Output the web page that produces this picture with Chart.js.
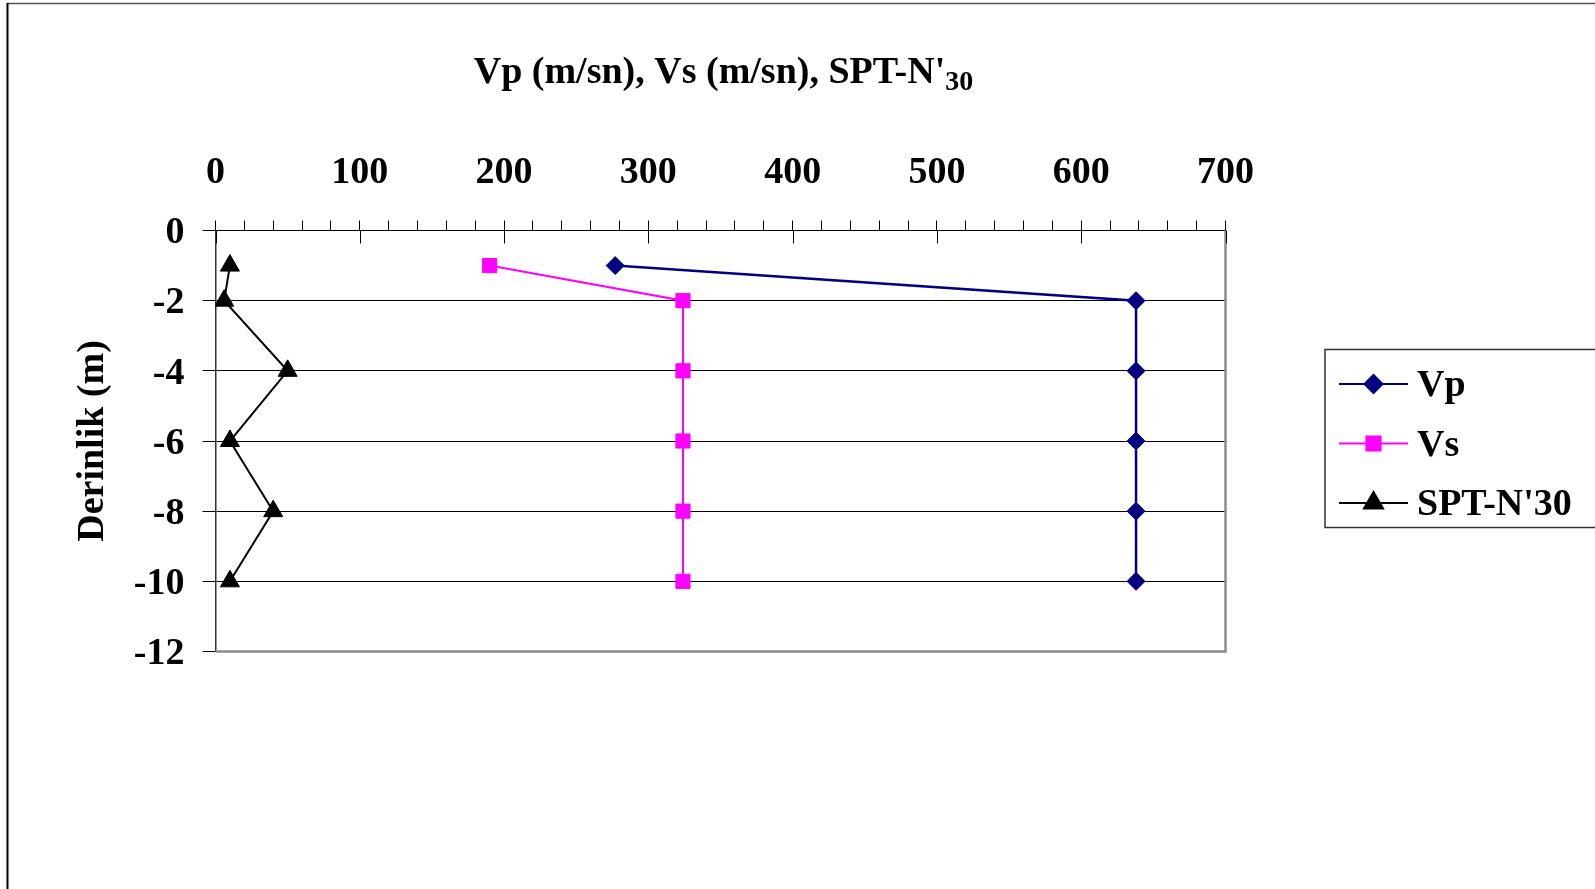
<!DOCTYPE html>
<html>
<head>
<meta charset="utf-8">
<script src="https://cdn.jsdelivr.net/npm/chart.js@4.4.0/dist/chart.umd.min.js"></script>
<style>
  html, body { margin: 0; padding: 0; background: #fff; }
  #wrap { position: relative; width: 1595px; height: 889px; }
</style>
</head>
<body>
<div id="wrap"><canvas id="grafik"></canvas></div>
<script>
var derinlik = [-1, -2, -4, -6, -8, -10];
var vp = [277, 638, 638, 638, 638, 638];
var vs = [190, 324, 324, 324, 324, 324];
var spt = [10, 6, 50, 10, 40, 10];
var xEtiketler = [0, 100, 200, 300, 400, 500, 600, 700];
var yEtiketler = [0, -2, -4, -6, -8, -10, -12];
var seriAdlari = ['Vp', 'Vs', "SPT-N'30"];
var baslik = "Vp (m/sn), Vs (m/sn), SPT-N'";
var baslikAlt = '30';
var yBaslik = 'Derinlik (m)';

var yazi = "'Liberation Serif', 'Times New Roman', serif";

function noktalar(degerler) {
    return degerler.map(function (v, i) { return { x: v, y: derinlik[i] }; });
}

// cerceve, baslik, cizim alani kenarlari ve lejant
var ekler = {
    id: 'ekler',
    beforeDraw: function (chart) {
        var ctx = chart.ctx;
        ctx.save();
        ctx.strokeStyle = '#555';
        ctx.lineWidth = 1.5;
        ctx.beginPath();
        ctx.moveTo(7, 3.5);
        ctx.lineTo(1595, 3.5);
        ctx.stroke();
        ctx.strokeStyle = '#000';
        ctx.lineWidth = 2;
        ctx.beginPath();
        ctx.moveTo(7.5, 3);
        ctx.lineTo(7.5, 889);
        ctx.stroke();
        ctx.restore();
    },
    afterDraw: function (chart) {
        var ctx = chart.ctx;
        var a = chart.chartArea;
        var xs = chart.scales.x;
        ctx.save();

        // sag ve alt kenar (gri)
        ctx.strokeStyle = '#8c8c8c';
        ctx.lineWidth = 2.5;
        ctx.beginPath();
        ctx.moveTo(a.right, a.top);
        ctx.lineTo(a.right, a.bottom);
        ctx.lineTo(a.left, a.bottom);
        ctx.stroke();

        // ana tikler cizim alanina tasar
        ctx.strokeStyle = '#000';
        ctx.lineWidth = 1;
        xEtiketler.forEach(function (v) {
            var px = Math.round(xs.getPixelForValue(v)) + 0.5;
            ctx.beginPath();
            ctx.moveTo(px, a.top);
            ctx.lineTo(px, a.top + 13);
            ctx.stroke();
        });

        // baslik (alt simge ile)
        ctx.fillStyle = '#000';
        ctx.textBaseline = 'alphabetic';
        ctx.textAlign = 'left';
        ctx.font = 'bold 38px ' + yazi;
        var w1 = ctx.measureText(baslik).width;
        ctx.font = 'bold 28px ' + yazi;
        var w2 = ctx.measureText(baslikAlt).width;
        var x0 = (a.left + a.right) / 2 - (w1 + w2) / 2 + 3;
        ctx.font = 'bold 38px ' + yazi;
        ctx.fillText(baslik, x0, 83);
        ctx.font = 'bold 28px ' + yazi;
        ctx.fillText(baslikAlt, x0 + w1, 90);

        // lejant
        ctx.strokeStyle = '#333';
        ctx.lineWidth = 1.5;
        ctx.strokeRect(1325, 349.5, 300, 178);
        var satirlar = [396, 455.5, 515];
        chart.data.datasets.forEach(function (ds, i) {
            var y = satirlar[i] - 12;
            ctx.strokeStyle = ds.borderColor;
            ctx.lineWidth = 2;
            ctx.beginPath();
            ctx.moveTo(1339, y);
            ctx.lineTo(1408, y);
            ctx.stroke();
            ctx.fillStyle = ds.backgroundColor;
            Chart.helpers.drawPoint(ctx, {
                pointStyle: ds.pointStyle,
                radius: ds.pointRadius,
                borderWidth: 1,
                rotation: 0
            }, 1373.5, y);
            ctx.fillStyle = '#000';
            ctx.font = 'bold 38px ' + yazi;
            ctx.textBaseline = 'alphabetic';
            ctx.fillText(ds.label, 1417, satirlar[i]);
        });
        ctx.restore();
    }
};

new Chart(document.getElementById('grafik'), {
    type: 'scatter',
    data: {
        datasets: [{
            label: seriAdlari[0],
            data: noktalar(vp),
            showLine: true,
            borderColor: '#000080',
            backgroundColor: '#000080',
            borderWidth: 2.5,
            pointStyle: 'rectRot',
            pointRadius: 9,
            pointBorderWidth: 1,
            tension: 0
        }, {
            label: seriAdlari[1],
            data: noktalar(vs),
            showLine: true,
            borderColor: '#ff00ff',
            backgroundColor: '#ff00ff',
            borderWidth: 2,
            pointStyle: 'rect',
            pointRadius: 10,
            pointBorderWidth: 1,
            tension: 0
        }, {
            label: seriAdlari[2],
            data: noktalar(spt),
            showLine: true,
            borderColor: '#000000',
            backgroundColor: '#000000',
            borderWidth: 2,
            pointStyle: 'triangle',
            pointRadius: 11,
            pointBorderWidth: 1,
            tension: 0
        }]
    },
    options: {
        responsive: true,
        maintainAspectRatio: false,
        animation: false,
        layout: {
            padding: { left: 0, top: 0, right: 369.5, bottom: 237.5 }
        },
        plugins: {
            legend: { display: false },
            title: { display: false },
            tooltip: { enabled: false }
        },
        scales: {
            x: {
                type: 'linear',
                position: 'top',
                min: xEtiketler[0],
                max: xEtiketler[xEtiketler.length - 1],
                afterFit: function (scale) { scale.height = 230.5; },
                ticks: {
                    stepSize: 20,
                    autoSkip: false,
                    maxRotation: 0,
                    padding: 25,
                    color: '#000',
                    font: { family: yazi, size: 38, weight: 'bold' },
                    callback: function (v) { return xEtiketler.indexOf(v) >= 0 ? v : ''; }
                },
                grid: {
                    drawOnChartArea: false,
                    drawTicks: true,
                    tickLength: 10,
                    color: '#000',
                    lineWidth: 1
                },
                border: { display: true, color: '#000', width: 1 }
            },
            y: {
                type: 'linear',
                position: 'left',
                min: yEtiketler[yEtiketler.length - 1],
                max: yEtiketler[0],
                afterFit: function (scale) { scale.width = 215.5; },
                ticks: {
                    stepSize: 2,
                    padding: 18,
                    labelOffset: 3,
                    color: '#000',
                    font: { family: yazi, size: 38, weight: 'bold' }
                },
                grid: {
                    color: '#000',
                    lineWidth: 1,
                    tickLength: 13
                },
                border: { display: true, color: '#333', width: 1.5 },
                title: {
                    display: true,
                    text: yBaslik,
                    color: '#000',
                    padding: { top: 70, bottom: 0 },
                    font: { family: yazi, size: 38, weight: 'bold' }
                }
            }
        }
    },
    plugins: [ekler]
});
</script>
</body>
</html>
